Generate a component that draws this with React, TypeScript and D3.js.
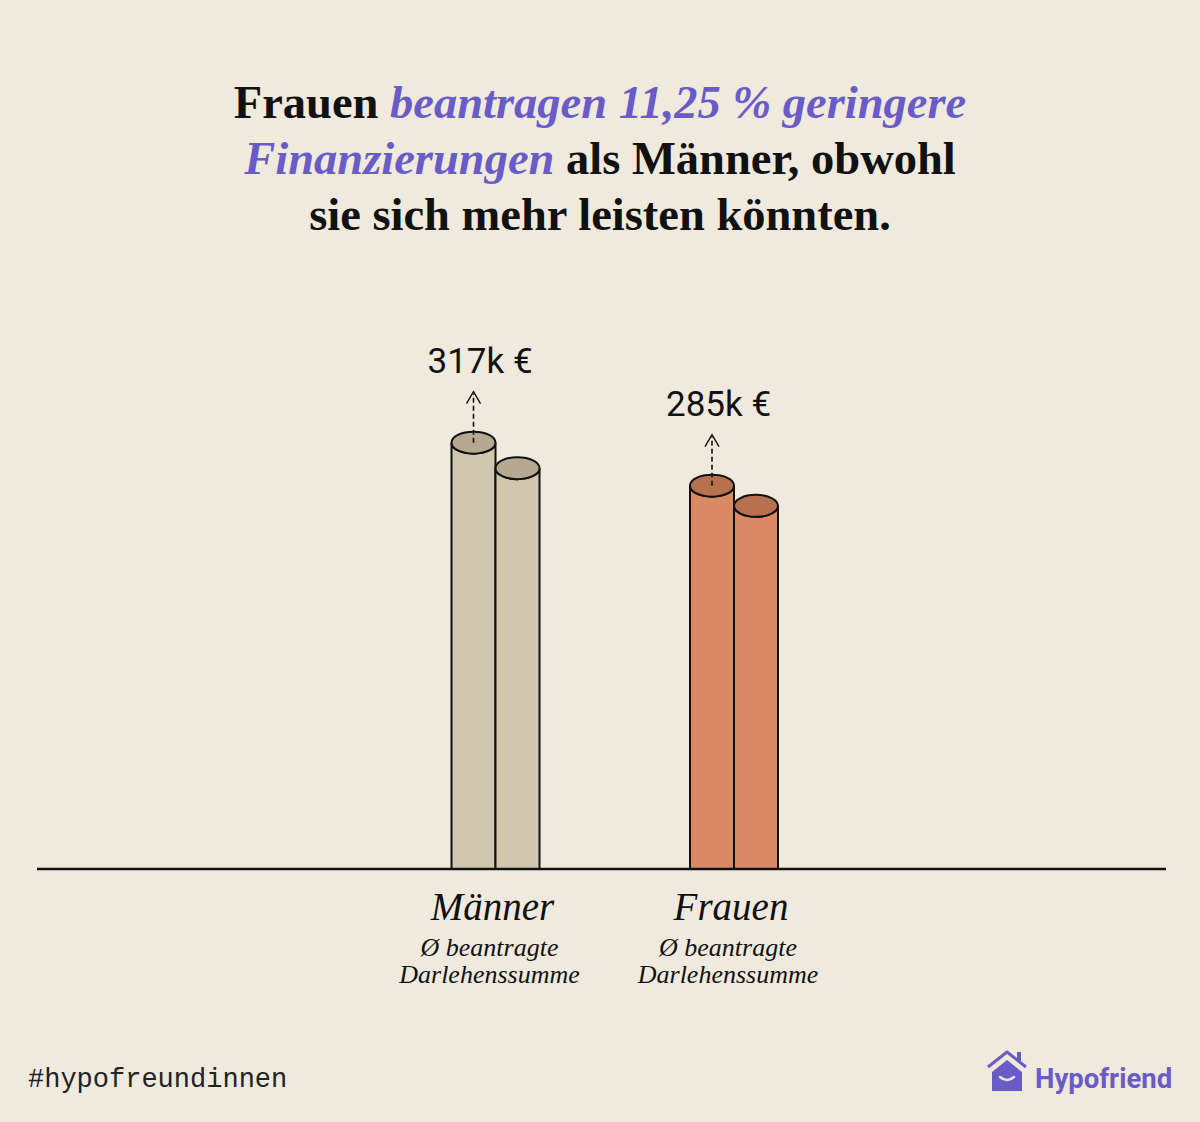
import React from "react";
import * as d3 from "d3";

// Average requested loan amount (in thousand €) per group
const categories = ["Männer", "Frauen"];
const primaryValues = [317, 285];
const secondaryValues = [298, 270];
const valueLabels = ["317k €", "285k €"];
const subLabels = ["Ø beantragte", "Darlehenssumme"];

const W = 1200;
const H = 1122;
const BASE_Y = 869;
const CYL_W = 44;
const RY = 11;

const palette = {
  bg: "#f0e9de",
  ink: "#111111",
  purple: "#6a5cc6",
  front: ["#d1c6ae", "#d98a64"],
  top: ["#b5aa91", "#b8714f"],
};

export default function App() {
  const x = d3.scalePoint<string>().domain(categories).range([495.5, 734]);
  const y = d3.scaleLinear().domain([0, 600]).range([BASE_Y, BASE_Y - 807]);

  const serif = "'Liberation Serif', 'DejaVu Serif', serif";
  const sans = "Roboto, 'Open Sans', sans-serif";

  const cylinder = (cx: number, v: number, i: number, key: string) => {
    const top = y(v);
    const l = cx - CYL_W / 2;
    const r = cx + CYL_W / 2;
    const body = `M${l},${BASE_Y} L${l},${top} A${CYL_W / 2},${RY} 0 0 0 ${r},${top} L${r},${BASE_Y} Z`;
    return (
      <g key={key}>
        <path d={body} fill={palette.front[i]} stroke={palette.ink} strokeWidth={2} />
        <ellipse cx={cx} cy={top} rx={CYL_W / 2} ry={RY} fill={palette.top[i]} stroke={palette.ink} strokeWidth={2} />
      </g>
    );
  };

  return (
    <svg
      width={W}
      height={H}
      viewBox={`0 0 ${W} ${H}`}
      style={{ position: "absolute", left: 0, top: 0, display: "block" }}
    >
      <rect width={W} height={H} fill={palette.bg} />

      {/* Headline */}
      <g fontFamily={serif} fontWeight={700} fontSize={46.5} textAnchor="middle" fill={palette.ink}>
        <text x={600} y={118}>
          <tspan>Frauen </tspan>
          <tspan fill={palette.purple} fontStyle="italic">beantragen 11,25 % geringere</tspan>
        </text>
        <text x={600} y={174}>
          <tspan fill={palette.purple} fontStyle="italic">Finanzierungen</tspan>
          <tspan> als Männer, obwohl</tspan>
        </text>
        <text x={600} y={230}>sie sich mehr leisten könnten.</text>
      </g>

      {/* Cylinders */}
      {categories.map((c, i) => {
        const cx = x(c)!;
        const c1 = cx - CYL_W / 2;
        const c2 = cx + CYL_W / 2;
        const top = y(primaryValues[i]);
        const arrowTop = top - 51;
        return (
          <g key={c}>
            {cylinder(c1, primaryValues[i], i, c + "a")}
            {cylinder(c2, secondaryValues[i], i, c + "b")}
            <line x1={c1} x2={c1} y1={top} y2={arrowTop + 2} stroke={palette.ink} strokeWidth={1.6} strokeDasharray="5,3" />
            <path d={`M${c1 - 7},${arrowTop + 12} L${c1},${arrowTop} L${c1 + 7},${arrowTop + 12}`} fill="none" stroke={palette.ink} strokeWidth={1.4} />
            <text x={c1 - 46} y={top - 70} fontFamily={sans} fontWeight={400} fontSize={35} fill={palette.ink}>
              {valueLabels[i]}
            </text>
            <g fontFamily={serif} fontStyle="italic" textAnchor="middle" fill={palette.ink}>
              <text x={cx - 3} y={920} fontSize={39}>{c}</text>
              <text x={cx - 6} y={956} fontSize={26}>{subLabels[0]}</text>
              <text x={cx - 6} y={983} fontSize={26}>{subLabels[1]}</text>
            </g>
          </g>
        );
      })}

      {/* Baseline */}
      <line x1={37} x2={1166} y1={BASE_Y} y2={BASE_Y} stroke={palette.ink} strokeWidth={2.5} />

      {/* Footer */}
      <text x={28} y={1087} fontFamily="'Liberation Mono', 'DejaVu Sans Mono', monospace" fontSize={27} fill="#222">
        #hypofreundinnen
      </text>
      <g fill={palette.purple}>
        <path d="M992,1072 L1007,1060 L1022,1072 L1022,1091 L992,1091 Z" />
        <path d="M989,1069 L1007,1055 L1025,1069" fill="none" stroke={palette.bg} strokeWidth={3} />
        <path d="M988,1067 L1007,1052 L1026,1067" fill="none" stroke={palette.purple} strokeWidth={3} strokeLinejoin="round" />
        <rect x={1017} y={1052} width={4} height={9} />
        <path d="M1000,1077 Q1007,1083 1014,1077" fill="none" stroke={palette.bg} strokeWidth={2.4} strokeLinecap="round" />
        <text x={1035} y={1088} fontFamily={sans} fontWeight={700} fontSize={27.5}>Hypofriend</text>
      </g>
    </svg>
  );
}
